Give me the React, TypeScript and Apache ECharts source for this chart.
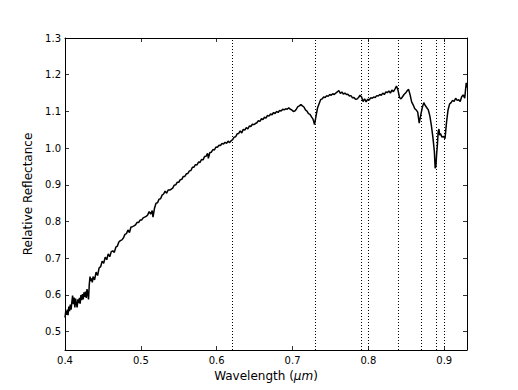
import React, { useEffect, useRef } from "react";
import * as echarts from "echarts";

// Spectrum: [wavelength (µm), relative reflectance]
const spectrum: [number, number][] = [
  [0.400, 0.538], [0.401, 0.556], [0.402, 0.546], [0.403, 0.560], [0.404, 0.545],
  [0.405, 0.568], [0.406, 0.556], [0.407, 0.574], [0.408, 0.560], [0.409, 0.580],
  [0.410, 0.598], [0.411, 0.575], [0.412, 0.593], [0.413, 0.566], [0.414, 0.590],
  [0.415, 0.575], [0.416, 0.566], [0.417, 0.588], [0.418, 0.578], [0.419, 0.592],
  [0.420, 0.576], [0.421, 0.600], [0.422, 0.586], [0.423, 0.602], [0.424, 0.588],
  [0.425, 0.607], [0.426, 0.595], [0.427, 0.609], [0.428, 0.592], [0.429, 0.616],
  [0.430, 0.603], [0.431, 0.588], [0.432, 0.628], [0.433, 0.650], [0.434, 0.638],
  [0.435, 0.645], [0.436, 0.634], [0.437, 0.650], [0.439, 0.641], [0.441, 0.662],
  [0.443, 0.653], [0.445, 0.674], [0.447, 0.677], [0.449, 0.692], [0.451, 0.686],
  [0.453, 0.703], [0.455, 0.696], [0.457, 0.712], [0.459, 0.704], [0.461, 0.718],
  [0.463, 0.720], [0.465, 0.716], [0.467, 0.730], [0.469, 0.733], [0.471, 0.744],
  [0.473, 0.748], [0.475, 0.750], [0.477, 0.755], [0.479, 0.765], [0.481, 0.767],
  [0.483, 0.777], [0.485, 0.770], [0.487, 0.785], [0.489, 0.786], [0.491, 0.788],
  [0.493, 0.791], [0.495, 0.798], [0.497, 0.797], [0.499, 0.804], [0.501, 0.804],
  [0.503, 0.810], [0.505, 0.812], [0.507, 0.814], [0.509, 0.818], [0.511, 0.827],
  [0.513, 0.820], [0.515, 0.830], [0.516, 0.812], [0.518, 0.836], [0.520, 0.850],
  [0.522, 0.851], [0.524, 0.861], [0.526, 0.862], [0.528, 0.872], [0.530, 0.875],
  [0.532, 0.883], [0.534, 0.877], [0.536, 0.886], [0.538, 0.886], [0.540, 0.888],
  [0.542, 0.891], [0.544, 0.899], [0.546, 0.900], [0.548, 0.907], [0.550, 0.907],
  [0.552, 0.914], [0.554, 0.915], [0.556, 0.923], [0.558, 0.923], [0.560, 0.930],
  [0.562, 0.931], [0.564, 0.938], [0.566, 0.939], [0.568, 0.948], [0.570, 0.948],
  [0.572, 0.955], [0.574, 0.954], [0.576, 0.962], [0.578, 0.961], [0.580, 0.969],
  [0.582, 0.968], [0.584, 0.977], [0.586, 0.978], [0.588, 0.986], [0.589, 0.972],
  [0.591, 0.988], [0.593, 0.989], [0.595, 0.996], [0.597, 0.995], [0.599, 1.003],
  [0.601, 1.002], [0.603, 1.008], [0.605, 1.007], [0.607, 1.013], [0.609, 1.011],
  [0.611, 1.016], [0.613, 1.013], [0.615, 1.019], [0.617, 1.015], [0.619, 1.020],
  [0.621, 1.023], [0.623, 1.030], [0.625, 1.031], [0.627, 1.039], [0.629, 1.040],
  [0.631, 1.047], [0.633, 1.041], [0.635, 1.051], [0.637, 1.049], [0.639, 1.056],
  [0.641, 1.052], [0.643, 1.060], [0.645, 1.059], [0.647, 1.065], [0.649, 1.064],
  [0.651, 1.067], [0.653, 1.069], [0.655, 1.075], [0.657, 1.073], [0.659, 1.080],
  [0.661, 1.078], [0.663, 1.084], [0.665, 1.082], [0.667, 1.089], [0.669, 1.087],
  [0.671, 1.093], [0.673, 1.091], [0.675, 1.097], [0.677, 1.094], [0.679, 1.100],
  [0.681, 1.097], [0.683, 1.103], [0.685, 1.101], [0.687, 1.106], [0.689, 1.104],
  [0.691, 1.107], [0.693, 1.106], [0.695, 1.110], [0.697, 1.106], [0.699, 1.104],
  [0.701, 1.100], [0.703, 1.101], [0.705, 1.106], [0.707, 1.113], [0.709, 1.115],
  [0.711, 1.119], [0.713, 1.115], [0.715, 1.112], [0.717, 1.104], [0.719, 1.101],
  [0.721, 1.094], [0.723, 1.092], [0.725, 1.085], [0.727, 1.079], [0.729, 1.064],
  [0.731, 1.088], [0.733, 1.110], [0.735, 1.121], [0.737, 1.132], [0.739, 1.134],
  [0.741, 1.139], [0.743, 1.138], [0.745, 1.143], [0.747, 1.141], [0.749, 1.146],
  [0.751, 1.144], [0.753, 1.148], [0.755, 1.146], [0.757, 1.150], [0.759, 1.153],
  [0.761, 1.157], [0.763, 1.149], [0.765, 1.153], [0.767, 1.147], [0.769, 1.150],
  [0.771, 1.146], [0.773, 1.147], [0.775, 1.142], [0.777, 1.143], [0.779, 1.137],
  [0.781, 1.138], [0.783, 1.133], [0.785, 1.134], [0.787, 1.138], [0.789, 1.144],
  [0.791, 1.139], [0.793, 1.127], [0.795, 1.134], [0.797, 1.126], [0.799, 1.133],
  [0.801, 1.131], [0.803, 1.137], [0.805, 1.136], [0.807, 1.139], [0.809, 1.138],
  [0.811, 1.143], [0.813, 1.142], [0.815, 1.146], [0.817, 1.144], [0.819, 1.150],
  [0.821, 1.146], [0.823, 1.153], [0.825, 1.151], [0.827, 1.156], [0.829, 1.150],
  [0.831, 1.158], [0.833, 1.154], [0.835, 1.161], [0.837, 1.169], [0.839, 1.158],
  [0.841, 1.138], [0.843, 1.134], [0.845, 1.140], [0.847, 1.146], [0.849, 1.150],
  [0.851, 1.156], [0.853, 1.160], [0.855, 1.145], [0.857, 1.126], [0.859, 1.118],
  [0.861, 1.108], [0.863, 1.104], [0.865, 1.098], [0.867, 1.068], [0.869, 1.090],
  [0.871, 1.110], [0.873, 1.124], [0.875, 1.116], [0.877, 1.110], [0.879, 1.104],
  [0.881, 1.088], [0.883, 1.062], [0.885, 1.030], [0.887, 0.990], [0.888, 0.945],
  [0.889, 0.950], [0.890, 0.985], [0.891, 1.010], [0.892, 1.045], [0.893, 1.052],
  [0.894, 1.035], [0.895, 1.040], [0.897, 1.030], [0.899, 1.032], [0.901, 1.026],
  [0.903, 1.070], [0.905, 1.104], [0.907, 1.120], [0.909, 1.124], [0.911, 1.130],
  [0.913, 1.127], [0.915, 1.136], [0.917, 1.130], [0.919, 1.132], [0.921, 1.127],
  [0.923, 1.140], [0.925, 1.145], [0.927, 1.136], [0.929, 1.178], [0.930, 1.165],
];

// Dotted reference lines (wavelengths, µm)
const bandLines: number[] = [0.619, 0.7296, 0.786, 0.799, 0.844, 0.868, 0.889, 0.901];

const xTicks: number[] = [0.4, 0.5, 0.6, 0.7, 0.8, 0.9];
const yTicks: number[] = [0.5, 0.6, 0.7, 0.8, 0.9, 1.0, 1.1, 1.2, 1.3];

const X_MIN = 0.4;
const X_MAX = 0.93;
const Y_MIN = 0.45;
const Y_MAX = 1.3;

const FONT = "DejaVu Sans";

export default function App() {
  const ref = useRef<HTMLDivElement>(null);

  useEffect(() => {
    if (!ref.current) return;
    const chart = echarts.init(ref.current, undefined, { renderer: "svg" });

    const axisLine = { show: true, lineStyle: { color: "#000", width: 1 } };
    const tickInside = (vals: number[]) => ({
      show: true,
      inside: true,
      length: 4,
      customValues: vals,
      lineStyle: { color: "#000", width: 0.8 },
    });

    chart.setOption({
      animation: false,
      backgroundColor: "#fff",
      grid: {
        left: 65,
        right: 51,
        top: 38,
        bottom: 40,
        containLabel: false,
        outerBoundsMode: "none",
      },
      xAxis: [
        {
          type: "value",
          min: X_MIN,
          max: X_MAX,
          position: "bottom",
          axisLine,
          axisTick: tickInside(xTicks),
          splitLine: { show: false },
          axisLabel: {
            customValues: xTicks,
            formatter: (v: number) => v.toFixed(1),
            color: "#000",
            fontFamily: FONT,
            fontSize: 10,
            margin: 5,
            showMinLabel: true,
            showMaxLabel: true,
          },
          name: "Wavelength ({it|μm})",
          nameLocation: "middle",
          nameGap: 16,
          nameTextStyle: {
            color: "#000",
            fontFamily: FONT,
            fontSize: 12,
            rich: {
              it: { fontStyle: "italic", fontFamily: FONT, fontSize: 12, color: "#000" },
            },
          },
        },
        {
          type: "value",
          min: X_MIN,
          max: X_MAX,
          position: "top",
          axisLine,
          axisTick: tickInside(xTicks),
          axisLabel: { show: false },
          splitLine: { show: false },
        },
      ],
      yAxis: [
        {
          type: "value",
          min: Y_MIN,
          max: Y_MAX,
          position: "left",
          axisLine,
          axisTick: tickInside(yTicks),
          splitLine: { show: false },
          axisLabel: {
            customValues: yTicks,
            formatter: (v: number) => v.toFixed(1),
            color: "#000",
            fontFamily: FONT,
            fontSize: 10,
            margin: 4,
          },
          name: "Relative Reflectance",
          nameLocation: "middle",
          nameGap: 21,
          nameTextStyle: { color: "#000", fontFamily: FONT, fontSize: 12 },
        },
        {
          type: "value",
          min: Y_MIN,
          max: Y_MAX,
          position: "right",
          axisLine,
          axisTick: tickInside(yTicks),
          axisLabel: { show: false },
          splitLine: { show: false },
        },
      ],
      series: [
        {
          type: "line",
          data: spectrum,
          xAxisIndex: 0,
          yAxisIndex: 0,
          showSymbol: false,
          symbol: "none",
          lineStyle: { color: "#000", width: 1.5 },
          clip: true,
          markLine: {
            silent: true,
            symbol: "none",
            label: { show: false },
            lineStyle: { color: "#000", width: 1, type: [1, 2] },
            data: bandLines.map((w) => ({ xAxis: w })),
          },
        },
      ],
    });

    return () => chart.dispose();
  }, []);

  return (
    <div
      ref={ref}
      style={{ position: "fixed", left: 0, top: 0, width: 518, height: 390, background: "#fff" }}
    />
  );
}
